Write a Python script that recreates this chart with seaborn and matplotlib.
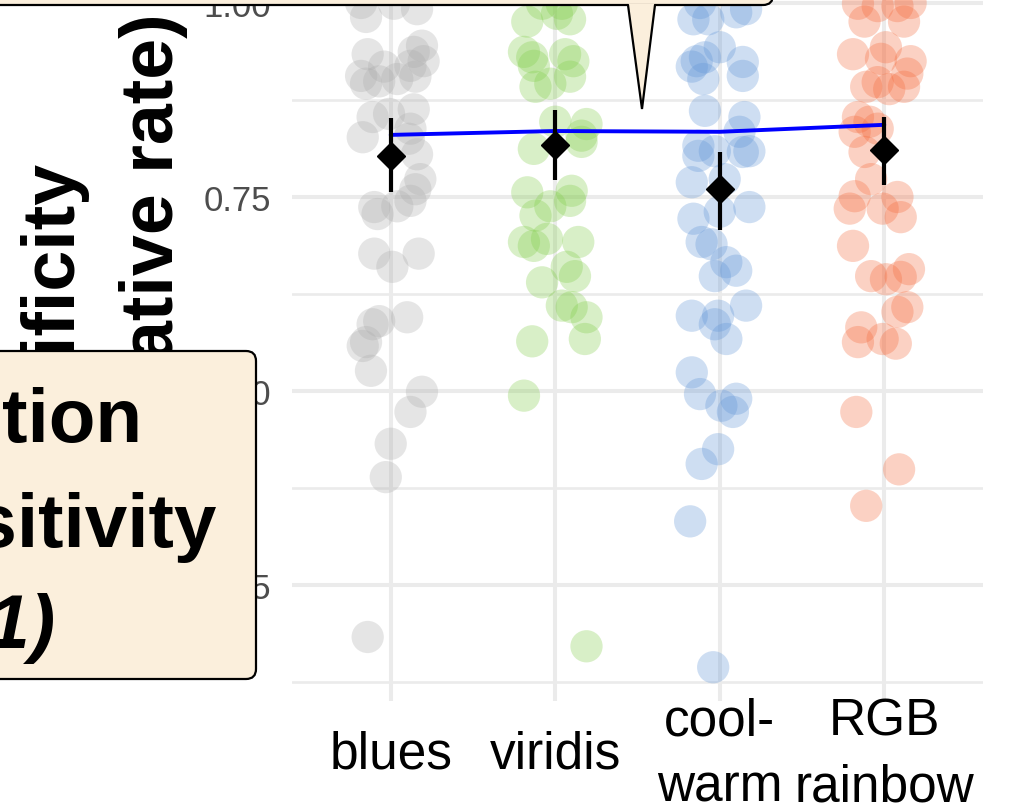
import numpy as np
import pandas as pd
import matplotlib
matplotlib.use("Agg")
import matplotlib.pyplot as plt
import seaborn as sns
from matplotlib.patches import FancyBboxPatch, Polygon
from matplotlib.lines import Line2D
from matplotlib.transforms import IdentityTransform

# ---------------- data ----------------
categories = ["blues", "viridis", "cool-\nwarm", "RGB\nrainbow"]
colors = ["#acacac", "#80cd48", "#5f94d7", "#f5693a"]

blues_vals = [1.000, 0.999, 0.992, 0.982, 0.945, 0.937, 0.925, 0.934, 0.918, 0.906,
              0.896, 0.899, 0.902, 0.905, 0.919, 0.853, 0.857, 0.863, 0.827, 0.838,
              0.825, 0.805, 0.773, 0.760, 0.745, 0.737, 0.728, 0.738, 0.677, 0.660,
              0.677, 0.586, 0.590, 0.595, 0.563, 0.558, 0.526, 0.499, 0.473, 0.432,
              0.389, 0.183]
blues_jit = [-0.18, 0.02, 0.16, -0.15, 0.19, 0.14, 0.20, -0.14, -0.04, -0.18,
             -0.15, -0.07, 0.04, 0.15, 0.12, -0.11, -0.01, 0.14, -0.17, 0.12,
             0.11, 0.16, 0.18, 0.15, 0.12, -0.10, -0.08, 0.04, -0.10, 0.01,
             0.17, -0.11, -0.07, 0.10, -0.15, -0.17, -0.12, 0.19, 0.12, 0.00,
             -0.03, -0.14]

viridis_vals = [0.976, 0.986, 0.979, 0.999, 0.999, 0.937, 0.930, 0.919, 0.934, 0.925,
                0.905, 0.892, 0.896, 0.847, 0.844, 0.829, 0.812, 0.821, 0.756, 0.758,
                0.745, 0.738, 0.726, 0.692, 0.687, 0.696, 0.692, 0.640, 0.660, 0.648,
                0.610, 0.608, 0.595, 0.564, 0.567, 0.494, 0.171]
viridis_jit = [-0.17, 0.01, 0.09, -0.08, 0.04, -0.19, -0.14, -0.13, 0.06, 0.11,
               0.09, -0.12, -0.03, 0.00, 0.19, 0.16, -0.13, 0.16, -0.17, 0.10,
               0.09, -0.03, -0.12, -0.19, -0.13, -0.05, 0.14, -0.08, 0.07, 0.12,
               0.04, 0.10, 0.19, -0.14, 0.18, -0.19, 0.19]

coolwarm_vals = [0.979, 0.979, 0.988, 0.992, 1.000, 0.943, 0.925, 0.918, 0.930, 0.902,
                 0.924, 0.906, 0.861, 0.853, 0.834, 0.816, 0.809, 0.803, 0.809, 0.808,
                 0.769, 0.773, 0.737, 0.722, 0.731, 0.692, 0.689, 0.666, 0.655, 0.648,
                 0.597, 0.597, 0.610, 0.567, 0.586, 0.524, 0.496, 0.481, 0.490, 0.473,
                 0.425, 0.406, 0.332, 0.144]
coolwarm_jit = [-0.16, -0.07, 0.10, 0.16, -0.12, 0.00, -0.14, -0.17, -0.09, -0.10,
                0.14, 0.14, -0.09, 0.15, 0.12, -0.13, -0.03, -0.13, 0.18, 0.14,
                -0.17, 0.03, 0.18, -0.16, 0.00, -0.11, -0.05, 0.04, 0.10, -0.03,
                -0.17, -0.01, 0.16, 0.04, -0.03, -0.17, -0.12, 0.01, 0.10, 0.08,
                -0.01, -0.11, -0.18, -0.04]

rainbow_vals = [0.976, 0.996, 0.996, 1.000, 0.976, 0.999, 0.934, 0.943, 0.928, 0.925,
                0.909, 0.892, 0.898, 0.889, 0.892, 0.853, 0.847, 0.838, 0.834, 0.808,
                0.773, 0.751, 0.735, 0.750, 0.735, 0.724, 0.687, 0.648, 0.644, 0.657,
                0.647, 0.602, 0.608, 0.582, 0.563, 0.567, 0.561, 0.473, 0.399, 0.352]
rainbow_jit = [-0.12, -0.04, 0.08, 0.16, 0.12, -0.16, -0.19, 0.01, -0.02, 0.16,
               0.14, -0.11, -0.04, 0.03, 0.12, -0.16, -0.09, -0.04, -0.18, -0.12,
               -0.08, -0.18, -0.21, 0.08, -0.01, 0.10, -0.19, -0.08, 0.01, 0.15,
               0.10, 0.08, 0.14, -0.14, -0.16, -0.01, 0.07, -0.17, 0.09, -0.11]

mean_vals = [0.803, 0.817, 0.760, 0.811]
ci_low = [0.756, 0.772, 0.707, 0.765]
ci_high = [0.852, 0.862, 0.808, 0.853]
overall_vals = [0.830, 0.835, 0.834, 0.843]

ytick_vals = [0.25, 0.50, 0.75, 1.00]
ytick_labels = ["0.25", "0.50", "0.75", "1.00"]
yminor_vals = [0.125, 0.375, 0.625, 0.875]

# ---------------- build table ----------------
groups = [blues_vals, viridis_vals, coolwarm_vals, rainbow_vals]
jits = [blues_jit, viridis_jit, coolwarm_jit, rainbow_jit]
rows = []
for gi, (vals, jit) in enumerate(zip(groups, jits)):
    for v, j in zip(vals, jit):
        rows.append({"pos": gi + j, "value": v, "group": categories[gi]})
df = pd.DataFrame(rows)

# ---------------- figure ----------------
sns.set_theme(style="white")
plt.rcParams["font.family"] = ["Liberation Sans", "DejaVu Sans"]

W, H = 1017, 812
fig = plt.figure(figsize=(W / 100, H / 100), dpi=100)
fig.patch.set_facecolor("white")
ax = fig.add_axes([292 / W, 110 / H, 691 / W, 731 / H])
ax.set_facecolor("white")

sns.scatterplot(data=df, x="pos", y="value", hue="group", hue_order=categories,
                palette=colors, s=540, alpha=0.3, edgecolor="none", legend=False,
                ax=ax, zorder=2)

sns.lineplot(x=list(range(4)), y=overall_vals, color="#0000ff", lw=2.8, ax=ax,
             zorder=4)

means = np.array(mean_vals)
ax.errorbar(range(4), means, yerr=[means - np.array(ci_low), np.array(ci_high) - means],
            fmt="D", color="black", ms=14, elinewidth=3, capsize=0, zorder=5)

ax.set_xlim(-0.6, 3.6)
ax.set_ylim(0.1005, 1.0425)
ax.set_xticks(range(4), labels=categories)
ax.set_yticks(ytick_vals, labels=ytick_labels)
ax.set_yticks(yminor_vals, minor=True)
ax.grid(which="major", color="#ebebeb", lw=2.9, zorder=0)
ax.grid(which="minor", axis="y", color="#ebebeb", lw=1.9, zorder=0)
ax.set_axisbelow(True)
for s in ax.spines.values():
    s.set_visible(False)
ax.tick_params(axis="y", which="both", length=0, pad=15, labelsize=25,
               labelcolor="#4d4d4d")
ax.tick_params(axis="x", which="both", length=0, pad=38, labelsize=37,
               labelcolor="black")
for lab in ax.get_xticklabels():
    lab.set_verticalalignment("center")
    lab.set_linespacing(1.45)
ax.set_xlabel("")
ax.set_ylabel("Specificity\n(true negative rate)", fontsize=53, fontweight="bold",
              linespacing=1.58, color="black")
ax.yaxis.set_label_coords(-0.1505, 0.489)

# ---------------- annotation boxes (pixel coords, origin bottom-left) ----------------
px = IdentityTransform()
cream = "#fbefdc"

top_box = FancyBboxPatch((-100, H - 6), 873, 300,
                         boxstyle="round,pad=0,rounding_size=10",
                         fc=cream, ec="black", lw=1.6, transform=px, zorder=10)
fig.patches.append(top_box)
tip = Polygon([(628.3, H - 4.5), (642, H - 110), (654.7, H - 4.5)], closed=True,
              fc=cream, ec="none", transform=px, zorder=11)
fig.patches.append(tip)
fig.lines.append(Line2D([628, 642, 655], [H - 6, H - 110, H - 6], color="black",
                        lw=1.6, transform=px, zorder=12, solid_joinstyle="miter"))

left_box = FancyBboxPatch((-100, H - 680), 356, 328,
                          boxstyle="round,pad=0,rounding_size=10",
                          fc=cream, ec="black", lw=1.6, transform=px, zorder=10)
fig.patches.append(left_box)
fig.text(143, H - 442, "Detection", transform=px, ha="right", va="baseline",
         fontsize=55, fontweight="bold", color="black", zorder=13)
fig.text(217, H - 547, "sensitivity", transform=px, ha="right", va="baseline",
         fontsize=55, fontweight="bold", color="black", zorder=13)
fig.text(55, H - 648, "(d' = 1)", transform=px, ha="right", va="baseline",
         fontsize=55, fontweight="bold", fontstyle="italic", color="black", zorder=13)

fig.savefig("out.png", dpi=100)
